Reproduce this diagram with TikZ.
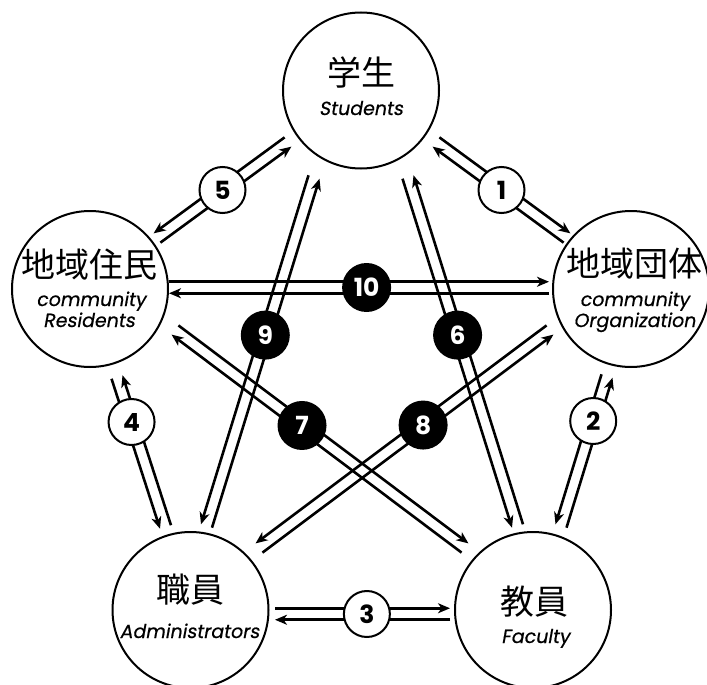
\documentclass[tikz,border=0pt]{standalone}
\usepackage{fontspec}
\newfontfamily\cjk{Noto Sans CJK JP}
\newfontfamily\lat[FakeSlant=0.18,FakeBold=0.6]{Poppins}
\newfontfamily\numf{Poppins}
\usetikzlibrary{calc,arrows.meta}
\def\off{5.75pt}
\newcommand\dlinkL[2]{%
  \draw[conn] ($(#1)!\off!90:(#2)$) -- ($(#2)!\off!-90:(#1)$);
  \draw[conn] ($(#2)!\off!90:(#1)$) -- ($(#1)!\off!-90:(#2)$);}
\newcommand\dlinkR[2]{%
  \draw[conn] ($(#1)!\off!-90:(#2)$) -- ($(#2)!\off!90:(#1)$);
  \draw[conn] ($(#2)!\off!-90:(#1)$) -- ($(#1)!\off!90:(#2)$);}
\tikzset{
  ent/.style={circle, draw=black, line width=2pt, minimum size=156pt, inner sep=0pt},
  conn/.style={line width=2.6pt, -{Stealth[length=12pt,width=10pt,inset=3.5pt]}},
  cj/.style={font=\cjk\fontsize{34}{34}\selectfont, inner sep=0pt},
  la/.style={font=\lat\fontsize{19}{19}\selectfont, inner sep=0pt, anchor=base},
  wlab/.style={circle, draw=black, fill=white, line width=2pt, minimum size=46pt, inner sep=0pt,
    font=\numf\bfseries\fontsize{25}{25}\selectfont},
  blab/.style={circle, fill=black, text=white, minimum size=49pt, inner sep=0pt,
    font=\numf\bfseries\fontsize{25}{25}\selectfont},
}
\begin{document}
\begin{tikzpicture}[x=1pt,y=-1pt]
\useasboundingbox (0,0) rectangle (707,685);
% entities
\node[ent] (S) at (361,90.5) {};
\node[ent] (R) at (90,289) {};
\node[ent] (O) at (631,289) {};
\node[ent] (A) at (190.5,610) {};
\node[ent] (F) at (533,610) {};
% texts
\node[cj] (St) at (361,73) {学生};
\node[la] (Se) at (361,115) {Students};
\node[cj] (Rt) at (89.5,265) {地域住民};
\node[la] (Re1) at (91,306) {community};
\node[la] (Re2) at (89,327) {Residents};
\node[cj] (Ot) at (634,264) {地域団体};
\node[la] (Oe1) at (634.5,306) {community};
\node[la] (Oe2) at (634.5,327) {Organization};
\node[cj] (At) at (190.5,590) {職員};
\node[la] (Ae) at (189.5,638) {Administrators};
\node[cj] (Ft) at (534.5,602) {教員};
\node[la] (Fe) at (535.5,643) {Faculty};
% connector end points
\coordinate (s1) at ($(S)+(75,51.5)$);
\coordinate (o1) at ($(O)+(-64,-51)$);
\coordinate (s5) at ($(S)+(-73,51.5)$);
\coordinate (r5) at ($(R)+(67,-51)$);
\coordinate (r10) at ($(R)+(79,-1.5)$);
\coordinate (o10) at ($(O)+(-82,-1.5)$);
\coordinate (a3) at ($(A)+(84.5,4)$);
\coordinate (f3) at ($(F)+(-83,4)$);
\coordinate (o2) at ($(O)+(-24,87)$);
\coordinate (f2) at ($(F)+(28,-84)$);
\coordinate (r4) at ($(R)+(27,88)$);
\coordinate (a4) at ($(A)+(-25,-83)$);
\coordinate (s9) at ($(S)+(-47,86.5)$);
\coordinate (a9) at ($(A)+(16,-84)$);
\coordinate (s6) at ($(S)+(47,86.5)$);
\coordinate (f6) at ($(F)+(-15.5,-84)$);
\coordinate (r7) at ($(R)+(85,41)$);
\coordinate (f7) at ($(F)+(-68,-62)$);
\coordinate (o8) at ($(O)+(-81,41)$);
\coordinate (a8) at ($(A)+(68.5,-62)$);
% connectors
\dlinkL{s1}{o1}
\dlinkR{r5}{s5}
\dlinkL{r10}{o10}
\dlinkL{a3}{f3}
\dlinkR{o2}{f2}
\dlinkR{r4}{a4}
\dlinkR{s9}{a9}
\dlinkR{s6}{f6}
\dlinkL{r7}{f7}
\dlinkR{a8}{o8}
% labels
\node[wlab] (L1) at ($(s1)!0.5!(o1)$) {1};
\node[wlab] (L5) at ($(s5)!0.5!(r5)$) {5};
\node[wlab] (L3) at ($(a3)!0.525!(f3)$) {3};
\node[wlab] (L2) at ($(o2)!0.30!(f2)$) {2};
\node[wlab] (L4) at ($(r4)!0.30!(a4)$) {4};
\node[blab] (L10) at ($(r10)!0.52!(o10)$) {10};
\node[blab] (L9) at ($(s9)!0.453!(a9)$) {9};
\node[blab] (L6) at ($(s6)!0.453!(f6)$) {6};
\node[blab] (L7) at ($(r7)!0.438!(f7)$) {7};
\node[blab] (L8) at ($(o8)!0.436!(a8)$) {8};
\end{tikzpicture}
\end{document}
